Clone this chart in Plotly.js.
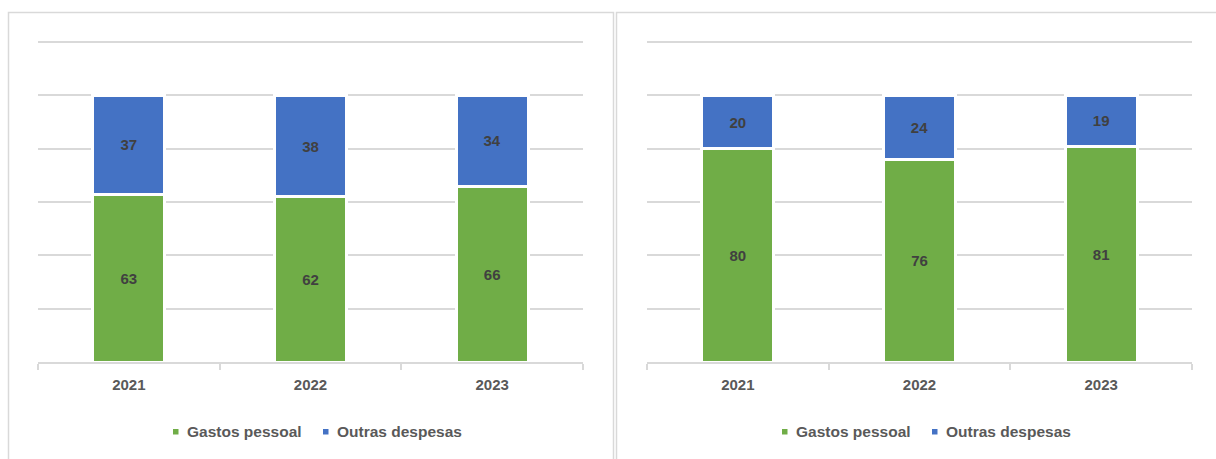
<!DOCTYPE html>
<html>
<head>
<meta charset="utf-8">
<script src="https://cdn.plot.ly/plotly-3.0.1.min.js"></script>
<style>
html,body{margin:0;padding:0;background:#fff;}
#chart{width:1216px;height:459px;}
</style>
</head>
<body>
<div id="chart"></div>
<script>
const years = ['2021', '2022', '2023'];
const seriesNames = ['Gastos pessoal', 'Outras despesas'];
const leftGastos = [63, 62, 66];
const leftOutras = [37, 38, 34];
const rightGastos = [80, 76, 81];
const rightOutras = [20, 24, 19];

const W = 1216, H = 459;
const px = v => v / W;
const py = v => 1 - v / H;

const green = '#70AD47';
const blue = '#4472C4';
const font = 'Liberation Sans, Arial, sans-serif';

function barTrace(y, name, color, xa, ya) {
  return {
    type: 'bar', x: years, y: y, name: name,
    xaxis: xa, yaxis: ya, showlegend: false,
    marker: {color: color, line: {color: '#ffffff', width: 3}},
    width: 0.395,
    text: y.map(String), textposition: 'inside', insidetextanchor: 'middle',
    textangle: 0,
    textfont: {family: font, size: 15, color: '#404040', weight: 'bold'},
    hoverinfo: 'x+y+name'
  };
}

const data = [
  barTrace(leftGastos, seriesNames[0], green, 'x', 'y'),
  barTrace(leftOutras, seriesNames[1], blue, 'x', 'y'),
  barTrace(rightGastos, seriesNames[0], green, 'x2', 'y2'),
  barTrace(rightOutras, seriesNames[1], blue, 'x2', 'y2')
];

const xaxisBase = {
  type: 'category', tickson: 'boundaries', ticks: 'outside', ticklen: 6,
  tickcolor: '#d9d9d9', tickwidth: 1.5, showline: true, linecolor: '#d9d9d9',
  linewidth: 1.5, showgrid: false, zeroline: false, fixedrange: true,
  tickfont: {family: font, size: 15, color: '#595959', weight: 'bold'},
  ticklabelstandoff: 8
};
const yaxisBase = {
  range: [0, 121], dtick: 20, tick0: 0, showticklabels: false, ticks: '',
  showgrid: true, gridcolor: '#d9d9d9', gridwidth: 1.5, zeroline: false,
  showline: false, fixedrange: true
};

// custom legend (one per panel)
const panelShifts = [0, 609];
const legendSquares = [173, 323];
const legendTexts = [185, 335];
const legendColors = [green, blue];

const shapes = [
  {type: 'rect', xref: 'paper', yref: 'paper', x0: px(8.5), x1: px(613.5), y0: py(470), y1: py(12.5),
   line: {color: '#d9d9d9', width: 1.5}, fillcolor: 'rgba(0,0,0,0)', layer: 'below'},
  {type: 'rect', xref: 'paper', yref: 'paper', x0: px(616.5), x1: px(1230), y0: py(470), y1: py(12.5),
   line: {color: '#d9d9d9', width: 1.5}, fillcolor: 'rgba(0,0,0,0)', layer: 'below'}
];
const annotations = [];
panelShifts.forEach(s => {
  seriesNames.forEach((n, i) => {
    shapes.push({type: 'rect', xref: 'paper', yref: 'paper',
      x0: px(legendSquares[i] + s), x1: px(legendSquares[i] + s + 5.5),
      y0: py(434.5), y1: py(429), line: {width: 0}, fillcolor: legendColors[i]});
    annotations.push({xref: 'paper', yref: 'paper', x: px(legendTexts[i] + s), y: py(431),
      xanchor: 'left', yanchor: 'middle', showarrow: false, text: n,
      font: {family: font, size: 15.5, color: '#595959', weight: 'bold'}});
  });
});

const layout = {
  width: W, height: H,
  margin: {l: 0, r: 0, t: 0, b: 0},
  paper_bgcolor: '#ffffff', plot_bgcolor: 'rgba(0,0,0,0)',
  barmode: 'stack',
  showlegend: false,
  font: {family: font},
  xaxis: Object.assign({}, xaxisBase, {domain: [px(38), px(583)], anchor: 'y'}),
  yaxis: Object.assign({}, yaxisBase, {domain: [py(362), py(362 - 121 * 2.665)], anchor: 'x'}),
  xaxis2: Object.assign({}, xaxisBase, {domain: [px(647), px(1192)], anchor: 'y2'}),
  yaxis2: Object.assign({}, yaxisBase, {domain: [py(362), py(362 - 121 * 2.665)], anchor: 'x2'}),
  shapes: shapes,
  annotations: annotations
};

Plotly.newPlot('chart', data, layout, {displayModeBar: false});
</script>
</body>
</html>
